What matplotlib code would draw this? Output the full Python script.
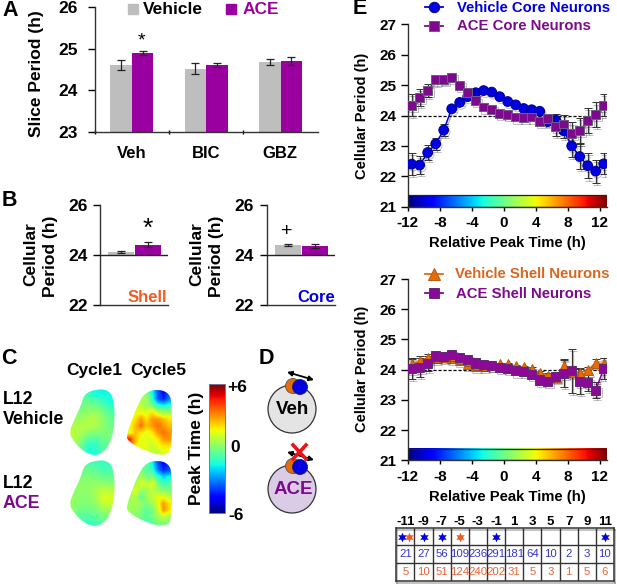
import numpy as np
import matplotlib
matplotlib.use('Agg')
import matplotlib.pyplot as plt
import matplotlib.patheffects as pe
from matplotlib.patches import Circle, FancyArrowPatch, PathPatch
from matplotlib.path import Path

plt.rcParams['font.family'] = ['Liberation Sans', 'DejaVu Sans']
plt.rcParams['font.weight'] = 'bold'

W, H = 617, 587
GRAY = '#BEBEBE'
PURPLE = '#9A00A0'
DARK_PURPLE = '#7D0A8C'
BLUE = '#0000E0'
ORANGE = '#E46C0A'
RED_ORANGE = '#EE5C25'

# panel A
a_groups = ['Veh', 'BIC', 'GBZ']
a_vehicle = [24.61, 24.52, 24.68]
a_vehicle_err = [0.13, 0.14, 0.08]
a_ace = [24.90, 24.60, 24.70]
a_ace_err = [0.05, 0.05, 0.10]

# panel B, [vehicle, ace]
b_shell = [24.13, 24.43]
b_shell_err = [0.04, 0.09]
b_core = [24.42, 24.38]
b_core_err = [0.05, 0.09]

# panel C, peak time maps (h)
map_v1 = [[-0.8, -0.8, -1.0, -1.5, -1.6, -1.5],
          [-0.3, -0.3, -0.3, -0.6, -1.0, -1.5],
          [0.0, 0.0, 0.2, 0.2, -0.3, -0.8],
          [0.4, 0.4, 0.7, 0.8, 0.2, -0.3],
          [0.8, 0.8, 0.8, 0.7, 0.2, -0.2],
          [0.9, 0.6, 0.0, -0.2, 0.0, 0.0],
          [0.8, 0.0, -1.0, -1.0, -0.4, -0.2],
          [0.4, -0.4, -1.4, -1.3, -0.6, -0.4]]
map_v5 = [[0.5, 0.5, 0.5, 0, -1.5, -3.5, -4.5, -3.5],
          [1, 1, 0.5, 0.5, -1, -3.5, -4, -3],
          [1, 1.5, 1, 0.5, 0, -1, -1.5, -1],
          [1.5, 1.5, 1.5, 1.5, 2, 1, 0.5, 0.5],
          [1.5, 2, 3, 2, 3, 3, 2.5, 2],
          [1.5, 2.5, 3.5, 2.5, 3, 3.5, 3, 2.5],
          [1.5, 2.5, 2, 1.5, 2, 3, 3.5, 3],
          [4.5, 2.5, 1.5, 1.5, 1.5, 2, 3, 3],
          [4, 2, 1.5, 1.5, 1, 1.5, 2, 2],
          [1.5, 1.5, 1.5, 1.5, 1, 1, 1.5, 1.5]]
map_a1 = [[-0.6, -0.6, -0.6, -0.8, -1.0, -1.0],
          [-0.3, -0.2, -0.1, -0.3, -0.6, -0.6],
          [0.0, 0.2, 0.2, 0.2, 0.0, 0.0],
          [0.2, 0.3, 0.3, 0.6, 0.9, 0.7],
          [0.4, 0.2, 0.2, 0.6, 1.4, 1.4],
          [0.4, 0.0, 0.0, 0.2, 0.9, 0.9],
          [0.0, -0.4, -0.5, -0.3, 0.0, 0.2],
          [-0.4, -0.8, -1.0, -0.8, -0.4, -0.2]]
map_a5 = [[-0.5, -0.5, -0.5, -0.5, -1.5, -3.5, -4.5, -4],
          [0, 0, 0, -0.5, -1, -3, -4, -3.5],
          [0, 0, 0.5, 0, 0, -1, -2, -1.5],
          [0, 0.5, 1.5, 1, 1.5, 0, -1, -0.5],
          [0.5, 1.5, 0.5, 0.5, 1, 0.5, 0, 0],
          [0.5, 1, -0.5, 0.5, 1, 1.5, 1.5, 1],
          [0.5, 0.5, 0.5, 0, 0.5, 1.5, 3, 2],
          [0.5, 0.5, 0, -0.5, 0, 1, 3, 2],
          [0, 0, 0, -0.5, 0, 0.5, 1, 0.5],
          [-0.5, -0.5, -1, -1, -0.5, 0, 0, 0]]

# panel E
e_time = [-11.5, -10.5, -9.5, -8.5, -7.5, -6.5, -5.5, -4.5, -3.5, -2.5, -1.5, -0.5, 0.5,
          1.5, 2.5, 3.5, 4.5, 5.5, 6.5, 7.5, 8.5, 9.5, 10.5, 11.5, 12.5]
veh_core = [22.40, 22.37, 22.78, 23.07, 23.52, 24.22, 24.43, 24.62, 24.75, 24.82, 24.77, 24.62, 24.46,
            24.35, 24.23, 24.19, 24.14, 23.80, 23.85, 23.50, 23.00, 22.65, 22.35, 22.17, 22.41]
veh_core_err = [0.36, 0.30, 0.25, 0.20, 0.20, 0.05, 0.05, 0.04, 0.04, 0.04, 0.04, 0.04, 0.04,
                0.04, 0.04, 0.05, 0.05, 0.10, 0.20, 0.25, 0.35, 0.40, 0.42, 0.38, 0.35]
ace_core = [24.34, 24.60, 24.82, 25.17, 25.17, 25.25, 25.00, 24.76, 24.48, 24.28, 24.20, 24.08, 24.02,
            23.95, 23.93, 23.95, 23.81, 23.91, 23.64, 23.72, 23.42, 23.50, 23.84, 24.03, 24.34]
ace_core_err = [0.37, 0.28, 0.22, 0.15, 0.10, 0.08, 0.05, 0.04, 0.04, 0.04, 0.04, 0.04, 0.04,
                0.04, 0.04, 0.05, 0.06, 0.15, 0.30, 0.30, 0.35, 0.42, 0.42, 0.40, 0.37]
veh_shell = [24.18, 24.28, 24.40, 24.38, 24.42, 24.39, 24.31, 24.18, 24.11, 24.12, 24.14, 24.18, 24.18,
             24.12, 24.09, 24.03, 23.89, 23.81, 23.76, 24.12, 23.92, 23.89, 23.99, 24.22, 24.20]
veh_shell_err = [0.20, 0.18, 0.12, 0.06, 0.05, 0.05, 0.05, 0.05, 0.04, 0.04, 0.04, 0.04, 0.04,
                 0.04, 0.04, 0.05, 0.06, 0.08, 0.10, 0.22, 0.10, 0.15, 0.10, 0.12, 0.17]
ace_shell = [24.03, 24.07, 24.20, 24.45, 24.44, 24.50, 24.40, 24.34, 24.22, 24.17, 24.14, 24.08, 24.03,
             23.96, 23.95, 23.85, 23.66, 23.61, 23.77, 23.87, 23.96, 23.61, 23.57, 23.32, 24.03]
ace_shell_err = [0.33, 0.30, 0.25, 0.08, 0.05, 0.05, 0.05, 0.05, 0.04, 0.04, 0.04, 0.04, 0.04,
                 0.04, 0.04, 0.05, 0.07, 0.08, 0.15, 0.45, 0.72, 0.40, 0.27, 0.26, 0.35]
e_xticks = [-12, -8, -4, 0, 4, 8, 12]
e_yticks = [21, 22, 23, 24, 25, 26, 27]

# table under panel E
table_hours = [-11, -9, -7, -5, -3, -1, 1, 3, 5, 7, 9, 11]
table_core_n = [21, 27, 56, 109, 236, 291, 181, 64, 10, 2, 3, 10]
table_shell_n = [5, 10, 51, 124, 240, 202, 31, 5, 3, 1, 5, 6]
core_sig_hours = [-11, -9, -7, -1, 11]
shell_sig_hours = [-11, -5]


def px_axes(left, top, right, bottom, **kw):
    return fig.add_axes([left / W, 1 - bottom / H, (right - left) / W, (bottom - top) / H], **kw)


def clean(ax):
    ax.spines['top'].set_visible(False)
    ax.spines['right'].set_visible(False)
    ax.patch.set_alpha(0)
    for s in ['left', 'bottom']:
        ax.spines[s].set_color('#333333')
        ax.spines[s].set_linewidth(1.0)


fig = plt.figure(figsize=(W / 100, H / 100), dpi=100)
ebar_kw = dict(ecolor='#222222', elinewidth=0.9, capsize=2.9, capthick=0.9)

# A
ax = px_axes(94.7, 7.3, 317.7, 131.7)
clean(ax)
xa = np.arange(3) + 0.5
ax.bar(xa - 0.145, a_vehicle, 0.29, yerr=a_vehicle_err, color=GRAY, error_kw=ebar_kw)
ax.bar(xa + 0.145, a_ace, 0.29, yerr=a_ace_err, color=PURPLE, error_kw=ebar_kw)
ax.set_xlim(0, 3)
ax.set_ylim(23, 26)
ax.set_yticks([23, 24, 25, 26])
ax.set_xticks([0, 1, 2])
ax.set_xticklabels([])
ax.tick_params(axis='y', length=5, width=1, labelsize=12.5, pad=7)
ax.tick_params(axis='x', length=3, width=1, direction='inout')

# B
for left, right, vals, errs in [(100, 168, b_shell, b_shell_err), (266.7, 335, b_core, b_core_err)]:
    ax = px_axes(left, 205.3, right, 305.3)
    clean(ax)
    ax.bar([0, 1], np.array(vals) - 24, 0.98, bottom=24, yerr=errs,
           color=[GRAY, PURPLE], edgecolor='none', error_kw=ebar_kw)
    ax.axhline(24, color='#222222', lw=1, zorder=5)
    ax.set_xlim(-0.78, 1.74)
    ax.set_ylim(22, 26)
    ax.set_yticks([22, 24, 26])
    ax.set_xticks([])
    ax.tick_params(axis='y', length=5, width=1, labelsize=12.5, pad=4)


# E
def panel_e(top, bottom, series):
    ax = px_axes(407.7, top, 606.7, bottom)
    clean(ax)
    ax.set_xlim(-12, 12.875)
    ax.set_ylim(21, 27)
    grad = np.linspace(0, 1, 256).reshape(1, -1)
    ax.imshow(grad, cmap='jet', extent=(-12, 12.875, 21, 21.37), aspect='auto', zorder=2)
    ax.plot([-12, 12.875, 12.875, -12, -12], [21, 21, 21.37, 21.37, 21], color='#222222', lw=0.9, zorder=3)
    ax.plot([-12, 12.4], [24, 24], color='black', lw=0.9, ls=(0, (2.5, 1.5)), zorder=2)
    for vals, errs, line_col, face, edge, marker, ms in series:
        ax.errorbar(e_time, vals, yerr=errs, color=line_col, lw=1.1, marker=marker, ms=ms,
                    mfc=face, mec=edge, mew=0.7, ecolor='#333333', elinewidth=0.9, capsize=2.9,
                    capthick=0.9, zorder=4,
                    path_effects=[pe.SimpleLineShadow(offset=(1, -1.5), alpha=0.25), pe.Normal()])
    ax.set_xticks(e_xticks)
    ax.set_xticklabels([str(t) for t in e_xticks])
    ax.set_yticks(e_yticks)
    ax.tick_params(axis='y', length=5.4, width=1, labelsize=11, pad=2.5)
    ax.tick_params(axis='x', length=3, width=1, labelsize=11, pad=4)
    ax.set_ylim(21, 27)
    ax.set_xlim(-12, 12.875)
    return ax


panel_e(24.3, 206.7, [(veh_core, veh_core_err, BLUE, BLUE, '#00008B', 'o', 7),
                      (ace_core, ace_core_err, DARK_PURPLE, DARK_PURPLE, '#6E5A86', 's', 6.4)])
panel_e(279, 460.3, [(veh_shell, veh_shell_err, ORANGE, ORANGE, '#B85A10', '^', 7),
                     (ace_shell, ace_shell_err, DARK_PURPLE, '#8A0A96', '#5E2A78', 's', 6.6)])

# table
tb = px_axes(396.3, 527.7, 614, 580.7)
tb.set_xlim(0, 12)
tb.set_ylim(3, 0)
tb.set_xticks([])
tb.set_yticks([])
for s in tb.spines.values():
    s.set_linewidth(1.1)
    s.set_color('#333333')
    s.set_path_effects([pe.SimpleLineShadow(offset=(0.5, -2), alpha=0.3), pe.Normal()])
tb.vlines(np.arange(1, 12), 0, 3, color='#333333', lw=1)
tb.hlines([1, 2], 0, 12, color='#333333', lw=1)
for i, hour in enumerate(table_hours):
    tb.text(i + 0.5, -0.3, str(hour), ha='center', va='center', fontsize=9.5, clip_on=False)
    tb.text(i + 0.5, 1.5, str(table_core_n[i]), ha='center', va='center', fontsize=8.2,
            fontweight='normal', color='#3434CC')
    tb.text(i + 0.5, 2.5, str(table_shell_n[i]), ha='center', va='center', fontsize=8.2,
            fontweight='normal', color='#E8643A')
    both = hour in core_sig_hours and hour in shell_sig_hours
    if hour in core_sig_hours:
        tb.plot(i + (0.33 if both else 0.5), 0.5, marker=(6, 1, 0), ms=7, color=BLUE, mec='none')
    if hour in shell_sig_hours:
        tb.plot(i + (0.7 if both else 0.5), 0.5, marker=(6, 1, 0), ms=7, color=RED_ORANGE, mec='none')

# overlay in pixel coordinates, for labels and panels C, D
ov = fig.add_axes([0, 0, 1, 1], zorder=10)
ov.axis('off')
ov.patch.set_alpha(0)


def label(x, y, s, size=12.5, color='black', rotation=0, ha='center', weight='bold'):
    ov.text(x, y, s, fontsize=size, color=color, rotation=rotation, ha=ha, va='center',
            fontweight=weight, rotation_mode='anchor' if rotation else 'default')


def rounded(points):
    # closed outline with corners rounded by quadratic curves
    pts = np.array(points, dtype=float)
    mids = (pts + np.roll(pts, -1, axis=0)) / 2
    verts = [mids[-1]]
    codes = [Path.MOVETO]
    for p, m in zip(pts, mids):
        verts += [p, m]
        codes += [Path.CURVE3, Path.CURVE3]
    return Path(verts, codes)


# letters
for x, y, s in [(2, 11, 'A'), (2, 200, 'B'), (1, 359, 'C'), (259, 359, 'D'), (353, 9, 'E')]:
    label(x, y, s, size=15.5, ha='left')

# A text
label(37, 74, 'Slice Period (h)', rotation=90)
for x, name in zip([131.7, 206, 280.3], a_groups):
    label(x, 154, name, size=12)
ov.add_patch(plt.Rectangle((128, 4), 10, 10, color=GRAY))
label(143, 9, 'Vehicle', ha='left')
ov.add_patch(plt.Rectangle((226, 4), 10, 10, color=PURPLE))
label(243, 9, 'ACE', color=PURPLE, ha='left')
label(141.5, 41, '*', size=14, weight='normal')

# B text
label(31, 254, 'Cellular', rotation=90)
label(51, 256, 'Period (h)', rotation=90)
label(197, 254, 'Cellular', rotation=90)
label(217, 256, 'Period (h)', rotation=90)
label(147, 298, 'Shell', color=RED_ORANGE, size=12)
label(316, 298, 'Core', color=BLUE, size=12)
label(147.5, 229, '*', size=19, weight='normal')
label(287, 231, '+', size=14, weight='normal')

# C text
label(94, 371, 'Cycle1', size=12.5)
label(158, 370, 'Cycle5', size=12.5)
label(3, 400, 'L12', ha='left', size=12.8)
label(3, 420, 'Vehicle', ha='left', size=12.8)
label(3, 484, 'L12', ha='left', size=12.8)
label(3, 504, 'ACE', ha='left', size=12.8, color=DARK_PURPLE)
label(196, 448, 'Peak Time (h)', rotation=90, size=12.5)
label(237, 388, '+6')
label(235, 447, '0')
label(236, 515, '-6')

left_shape = [(96, 389), (109, 390), (114, 400), (115, 423), (111, 442), (104, 452), (95, 456),
              (84, 452), (74, 442), (69, 433), (74, 420), (81, 406), (84, 394)]
right_shape = [(158, 389), (169, 393), (172, 403), (172, 449), (165, 456), (147, 452), (127, 441),
               (127, 434), (131, 422), (139, 402), (146, 392)]
for grid, shape, dy in [(map_v1, left_shape, 0), (map_v5, right_shape, 0),
                        (map_a1, left_shape, 71), (map_a5, right_shape, 71)]:
    xs = [p[0] for p in shape]
    ys = [p[1] + dy for p in shape]
    im = ov.imshow(grid, cmap='jet', vmin=-6, vmax=6, interpolation='bilinear', aspect='auto',
                   extent=(min(xs), max(xs), max(ys), min(ys)))
    outline = PathPatch(rounded(list(zip(xs, ys))), transform=ov.transData, fc='none', ec='none')
    ov.add_patch(outline)
    im.set_clip_path(outline)

ov.imshow(np.linspace(1, 0, 256).reshape(-1, 1), cmap='jet', aspect='auto', extent=(209, 225, 512.7, 384))
ov.add_patch(plt.Rectangle((209, 384), 16, 128.7, fill=False, ec='#777799', lw=0.7))

# D
for cy, face, name, col in [(409, '#E4E4E4', 'Veh', 'black'), (489, '#D9CCE4', 'ACE', DARK_PURPLE)]:
    ov.add_patch(Circle((292, cy), 24, fc=face, ec='#333333', lw=0.9))
    ov.add_patch(Circle((293, cy - 23), 7.5, fc=ORANGE, ec='#555555', lw=0.6))
    ov.add_patch(Circle((300, cy - 22), 7.5, fc=BLUE, ec='#222266', lw=0.6))
    ov.add_patch(FancyArrowPatch((287, cy - 37), (314, cy - 29), arrowstyle='<|-|>', mutation_scale=7,
                                 color='black', lw=1.3, shrinkA=0, shrinkB=0))
    label(293, cy + 1, name, size=13.5, color=col)
ov.plot([293, 306], [445, 459], color='#E8141C', lw=2.6)
ov.plot([306, 293], [445, 459], color='#E8141C', lw=2.6)

# E text
label(361.7, 116, 'Cellular Period (h)', rotation=90, size=10.5)
label(361.7, 369, 'Cellular Period (h)', rotation=90, size=10.5)
label(507.7, 243, 'Relative Peak Time (h)', size=10.7)
label(507.7, 497, 'Relative Peak Time (h)', size=10.7)
label(456.7, 7.5, 'Vehicle Core Neurons', color=BLUE, ha='left', size=10.7)
label(456.7, 26.5, 'ACE Core Neurons', color=DARK_PURPLE, ha='left', size=10.7)
label(455, 274, 'Vehicle Shell Neurons', color='#D9661F', ha='left', size=10.7)
label(456, 294, 'ACE Shell Neurons', color=DARK_PURPLE, ha='left', size=10.7)
for y, col, face, edge, marker, ms in [(7, BLUE, BLUE, '#00008B', 'o', 7.5),
                                       (26, DARK_PURPLE, DARK_PURPLE, '#6E5A86', 's', 7.5),
                                       (274, ORANGE, ORANGE, '#B85A10', '^', 8),
                                       (293, DARK_PURPLE, '#8A0A96', '#5E2A78', 's', 7.5)]:
    ov.plot([425, 443], [y, y], color=col, lw=1.3)
    ov.plot([434], [y], marker=marker, ms=ms, mfc=face, mec=edge, mew=0.7, color=col)

ov.set_xlim(0, W)
ov.set_ylim(H, 0)

fig.savefig('out.png', dpi=100)
